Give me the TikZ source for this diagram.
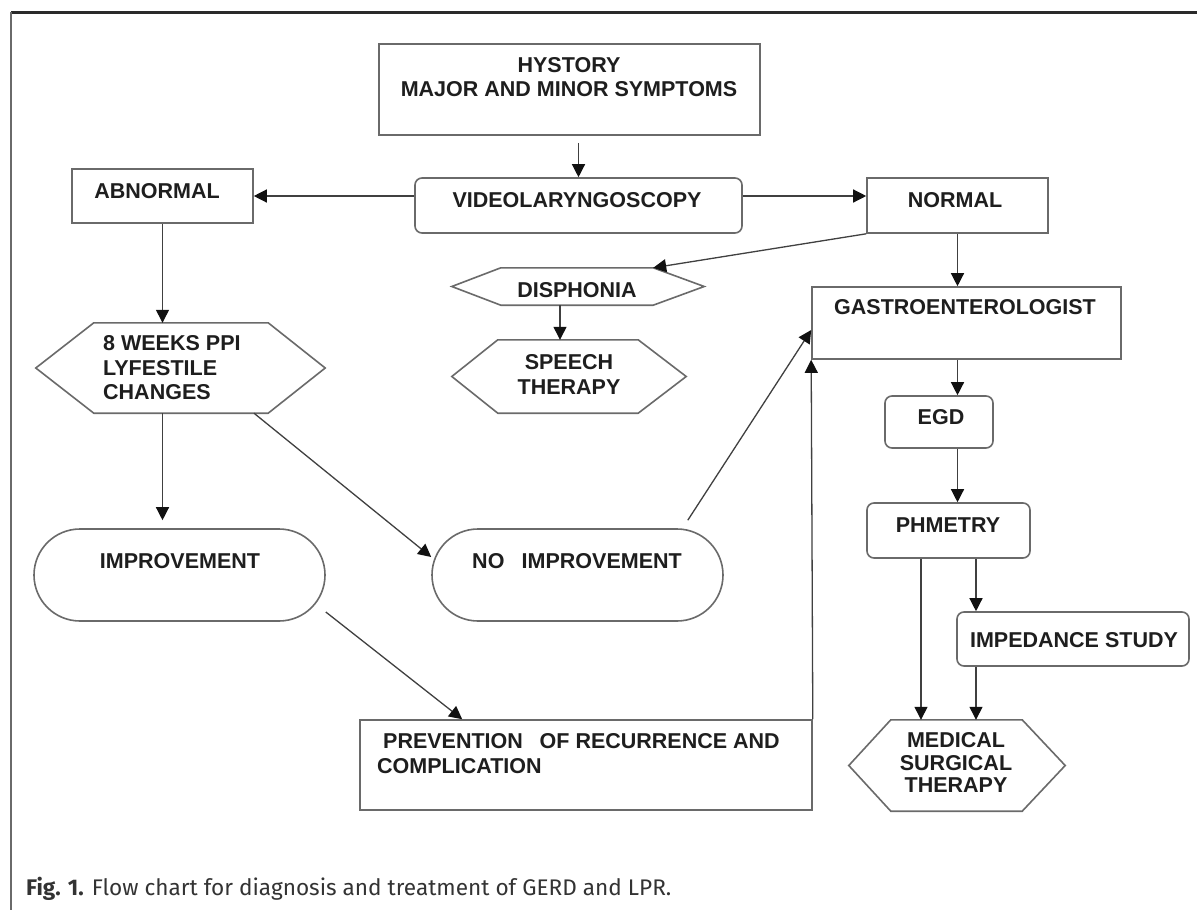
\documentclass[tikz,border=0pt]{standalone}
\usepackage{fontspec}
\setmainfont{Liberation Sans}
\newfontfamily\capfont{Fira Sans}
\usetikzlibrary{arrows.meta}
\definecolor{linec}{HTML}{6A6A6A}
\definecolor{arrc}{HTML}{404040}
\definecolor{headc}{HTML}{111111}
\definecolor{textc}{HTML}{1E1E1E}
\definecolor{framec}{HTML}{2A2A2A}
\definecolor{capc}{HTML}{333333}
\begin{document}
\begin{tikzpicture}[x=1pt,y=-1pt,
  lbl/.style={font=\fontsize{21.5}{24.5}\selectfont\bfseries, text=textc, inner sep=0pt},
  box/.style={draw=linec, line width=1.6pt, inner sep=0pt},
  rbox/.style={box, rounded corners=7pt},
  stad/.style={box, rounded corners=46pt},
  hexfit/.style={inner sep=0pt},
  hexline/.style={draw=linec, line width=1.6pt, line join=miter},
  arr/.style={draw=arrc, line width=1.3pt, -{Triangle[length=13pt,width=13pt,color=headc]}}]
\useasboundingbox (0,0) rectangle (1197,910);
\fill[white] (0,0) rectangle (1197,910);
% frame
\coordinate (ftl) at (11,12);
\coordinate (ftr) at (1197,12);
\coordinate (fbl) at (11,910);
\draw[framec, line width=3pt] (ftl) -- (ftr);
\draw[linec, line width=1.2pt] (ftl) -- (fbl);
% boxes
\node[box, minimum width=381pt, minimum height=91pt] (hyst) at (569.5,89.5) {};
\node[lbl, align=center] (hystt) at (569,77) {HYSTORY\\MAJOR AND MINOR SYMPTOMS};
\node[rbox, minimum width=327pt, minimum height=55pt] (vl) at (578.5,205.5) {};
\node[lbl] (vlt) at (577,200) {VIDEOLARYNGOSCOPY};
\node[box, minimum width=181pt, minimum height=54pt] (abn) at (162.5,196) {};
\node[lbl] (abnt) at (157,191) {ABNORMAL};
\node[box, minimum width=181pt, minimum height=55pt] (normal) at (957.5,205.5) {};
\node[lbl] (normalt) at (955,200) {NORMAL};
\node[box, minimum width=309pt, minimum height=72pt] (gastro) at (966.5,323) {};
\node[lbl] (gastrot) at (965,307) {GASTROENTEROLOGIST};
\node[rbox, minimum width=108pt, minimum height=52pt] (egd) at (939,422) {};
\node[lbl] (egdt) at (941,417) {EGD};
\node[rbox, minimum width=163pt, minimum height=55pt] (phm) at (948.5,530.5) {};
\node[lbl] (phmt) at (948,525) {PHMETRY};
\node[rbox, minimum width=232pt, minimum height=54pt] (imped) at (1073,639) {};
\node[lbl] (impedt) at (1074,640) {IMPEDANCE STUDY};
\node[stad, minimum width=291pt, minimum height=92pt] (imp) at (179.5,575) {};
\node[lbl] (impt) at (180,561) {IMPROVEMENT};
\node[stad, minimum width=291pt, minimum height=92pt] (noimp) at (577.5,575) {};
\node[lbl] (noimpt) at (577,561) {NO\hspace{0.8em}IMPROVEMENT};
\node[box, minimum width=452pt, minimum height=90pt] (prev) at (586,765) {};
\node[lbl, anchor=west, align=left] (prevt) at (377,753.5) {\hspace{6pt}PREVENTION\hspace{0.5em} OF RECURRENCE AND\\COMPLICATION};
% hexagons
\node[hexfit, minimum width=289pt, minimum height=90pt] (w8) at (180.5,368) {};
\draw[hexline] (w8.west) -- ([xshift=58pt]w8.north west) -- ([xshift=-57pt]w8.north east) -- (w8.east) -- ([xshift=-57pt]w8.south east) -- ([xshift=58pt]w8.south west) -- cycle;
\node[lbl, anchor=west, align=left] (w8t) at (103,368) {8 WEEKS PPI\\LYFESTILE\\CHANGES};
\node[hexfit, minimum width=252pt, minimum height=37pt] (disph) at (578,286.5) {};
\draw[hexline] (disph.west) -- ([xshift=49pt]disph.north west) -- ([xshift=-51pt]disph.north east) -- (disph.east) -- ([xshift=-51pt]disph.south east) -- ([xshift=49pt]disph.south west) -- cycle;
\node[lbl] (dispht) at (577,290) {DISPHONIA};
\node[hexfit, minimum width=234pt, minimum height=73pt] (speech) at (569,376.5) {};
\draw[hexline] (speech.west) -- ([xshift=46pt]speech.north west) -- ([xshift=-48pt]speech.north east) -- (speech.east) -- ([xshift=-48pt]speech.south east) -- ([xshift=46pt]speech.south west) -- cycle;
\node[lbl, align=center] (speecht) at (569,374.5) {SPEECH\\THERAPY};
\node[hexfit, minimum width=216pt, minimum height=91pt] (med) at (957,765.5) {};
\draw[hexline] (med.west) -- ([xshift=42pt]med.north west) -- ([xshift=-43pt]med.north east) -- (med.east) -- ([xshift=-43pt]med.south east) -- ([xshift=42pt]med.south west) -- cycle;
\node[lbl, align=center, font=\fontsize{21.5}{22.5}\selectfont\bfseries] (medt) at (956,762.5) {MEDICAL\\SURGICAL\\THERAPY};
% helper x positions
\coordinate (cx1) at (976,0);
\coordinate (cx2) at (921,0);
\coordinate (cx3) at (560,0);
% connectors
\draw[arr, shorten <=7pt] (vl.north |- hyst.south) -- (vl.north);
\draw[arr] (vl.west |- abn.east) -- (abn.east);
\draw[arr] (vl.east |- abn.east) -- (normal.west |- abn.east);
\draw[arr] (normal.south west) -- ([xshift=-51pt]disph.north east);
\draw[arr] (disph.south -| cx3) -- (speech.north -| cx3);
\draw[arr] (normal.south) -- (normal.south |- gastro.north);
\draw[arr] (gastro.south -| normal.south) -- (egd.north -| normal.south);
\draw[arr] (egd.south -| normal.south) -- (phm.north -| normal.south);
\draw[arr] (phm.south -| cx1) -- (imped.north -| cx1);
\draw[arr] (imped.south -| cx1) -- (med.north -| cx1);
\draw[arr] (phm.south -| cx2) -- (med.north -| cx2);
\draw[arr] (abn.south) -- (abn.south |- w8.north);
\draw[arr, shorten >=8pt] (w8.south -| abn.south) -- (imp.north -| abn.south);
\draw[arr] ([xshift=73.5pt]w8.south) -- ([yshift=18pt]noimp.west);
\draw[arr] ([yshift=-37pt]imp.east) -- ([xshift=103pt]prev.north west);
\draw[arr] ([xshift=-36pt,yshift=8pt]noimp.north east) -- ([yshift=-7pt]gastro.west);
\draw[arr] (prev.north east) -- (gastro.south west);
% caption
\node[anchor=west, inner sep=0pt, text=capc, font=\capfont\fontsize{22.6}{25}\selectfont] (cap) at (26,889) {\textbf{Fig. 1.} Flow chart for diagnosis and treatment of GERD and LPR.};
\end{tikzpicture}
\end{document}
